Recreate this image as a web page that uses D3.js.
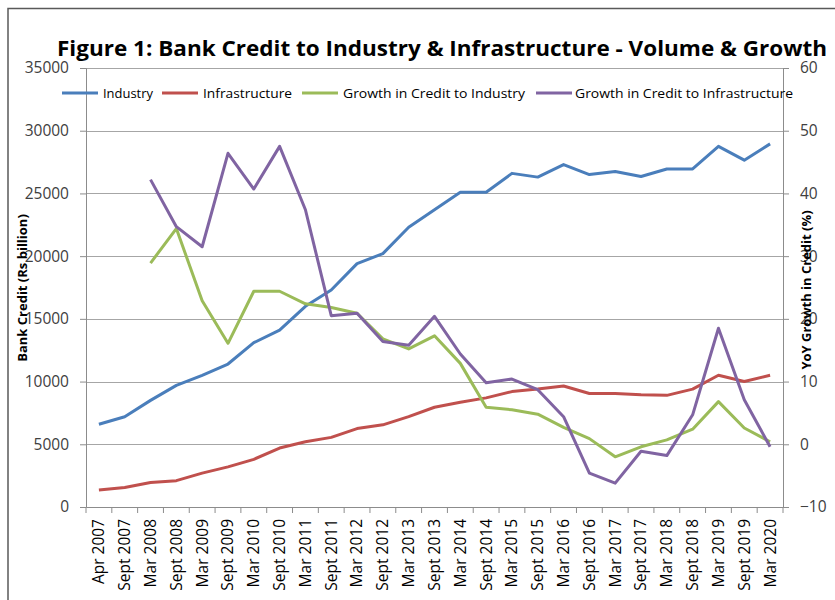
<!DOCTYPE html>
<html><head><meta charset="utf-8">
<script src="https://cdn.jsdelivr.net/npm/d3@7"></script>
<style>
body{margin:0;background:#fff;}
text{font-family:"Open Sans","Noto Sans",sans-serif;}
</style></head>
<body><svg id="c" width="835" height="600"></svg>
<script>
const categories = ["Apr 2007","Sept 2007","Mar 2008","Sept 2008","Mar 2009","Sept 2009","Mar 2010","Sept 2010","Mar 2011","Sept 2011","Mar 2012","Sept 2012","Mar 2013","Sept 2013","Mar 2014","Sept 2014","Mar 2015","Sept 2015","Mar 2016","Sept 2016","Mar 2017","Sept 2017","Mar 2018","Sept 2018","Mar 2019","Sept 2019","Mar 2020"];
const industry = [6600,7200,8500,9700,10500,11400,13100,14100,16000,17300,19400,20200,22300,23700,25100,25100,26600,26300,27300,26500,26750,26350,26950,26950,28750,27650,28950];
const infrastructure = [1350,1550,1950,2100,2700,3200,3800,4700,5200,5550,6250,6550,7200,7950,8350,8700,9200,9400,9650,9050,9050,8950,8900,9400,10500,10000,10500];
const growthIndustry = [null,null,28.9,34.4,22.9,16.1,24.4,24.4,22.4,21.8,20.9,16.8,15.2,17.3,12.9,5.9,5.5,4.8,2.7,0.9,-2.0,-0.4,0.7,2.4,6.8,2.6,0.4];
const growthInfra = [null,null,42.2,34.7,31.5,46.4,40.7,47.5,37.4,20.5,20.9,16.4,15.8,20.4,14.4,9.8,10.4,8.7,4.4,-4.6,-6.2,-1.1,-1.8,4.7,18.5,7.1,-0.4];
const leftTicks = [0,5000,10000,15000,20000,25000,30000,35000];
const rightTicks = [-10,0,10,20,30,40,50,60];
const seriesNames = ["Industry","Infrastructure","Growth in Credit to Industry","Growth in Credit to Infrastructure"];
const colors = ["#4A7EBB","#C0504D","#9BBB59","#8064A2"];

const svg = d3.select("#c");
const L=86, R=783, T=68, B=507;
const x = d3.scaleBand().domain(categories).range([L,R]).padding(0);
const yL = d3.scaleLinear().domain([0,35000]).range([B,T]);
const yR = d3.scaleLinear().domain([-10,60]).range([B,T]);

// frame
svg.append("path").attr("d","M8,600 L8,8.5 L835,8.5").attr("fill","none").attr("stroke","#595959").attr("stroke-width",1.5);

// gridlines
svg.append("g").selectAll("line").data(leftTicks.slice(1)).join("line")
  .attr("x1",L).attr("x2",R).attr("y1",d=>Math.round(yL(d))+0.5).attr("y2",d=>Math.round(yL(d))+0.5)
  .attr("stroke","#a6a6a6").attr("stroke-width",1);

// left axis
const gl = svg.append("g").attr("transform",`translate(${L},0)`)
  .call(d3.axisLeft(yL).tickValues(leftTicks).tickSize(6).tickPadding(11).tickFormat(d3.format("d")));
// right axis
const gr = svg.append("g").attr("transform",`translate(${R},0)`)
  .call(d3.axisRight(yR).tickValues(rightTicks).tickSize(6).tickPadding(11).tickFormat(d3.format("d")));
// bottom axis
const gb = svg.append("g").attr("transform",`translate(0,${B})`)
  .call(d3.axisBottom(x).tickSize(0).tickPadding(0));
[gl,gr,gb].forEach(g=>{g.select(".domain").attr("stroke","#8c8c8c"); g.selectAll(".tick line").attr("stroke","#8c8c8c");});
gl.selectAll(".tick text").attr("font-size",15.5).attr("fill","#404040");
gr.selectAll(".tick text").attr("font-size",15.5).attr("fill","#404040");
gb.selectAll(".tick text").attr("font-size",15.5).attr("fill","#000")
  .attr("transform","rotate(-90)").attr("text-anchor","end").attr("dy","0.35em").attr("x",-12).attr("y",0);
// category boundary ticks
const bounds = categories.map(c=>x(c)).concat([R]);
svg.append("g").selectAll("line").data(bounds).join("line")
  .attr("x1",d=>d).attr("x2",d=>d).attr("y1",B).attr("y2",B+6).attr("stroke","#8c8c8c");

// lines
const lineL = d3.line().defined(d=>d.v!=null).x(d=>x(d.c)+x.bandwidth()/2).y(d=>yL(d.v));
const lineR = d3.line().defined(d=>d.v!=null).x(d=>x(d.c)+x.bandwidth()/2).y(d=>yR(d.v));
const mk = arr=>arr.map((v,i)=>({c:categories[i],v}));
const series = [[industry,lineL],[infrastructure,lineL],[growthIndustry,lineR],[growthInfra,lineR]];
series.forEach(([arr,ln],i)=>{
  svg.append("path").datum(mk(arr)).attr("d",ln).attr("fill","none")
    .attr("stroke",colors[i]).attr("stroke-width",3).attr("stroke-linejoin","round");
});

// title
svg.append("text").attr("x",57).attr("y",56).attr("font-size",22).attr("font-weight","bold")
  .attr("textLength",770).attr("lengthAdjust","spacingAndGlyphs").attr("fill","#000")
  .text("Figure 1: Bank Credit to Industry & Infrastructure - Volume & Growth");

// legend
const legX = [62,162,302,536], legTX=[103,203,343,575], legTW=[50,89,182,218];
seriesNames.forEach((n,i)=>{
  svg.append("line").attr("x1",legX[i]).attr("x2",legX[i]+36).attr("y1",93).attr("y2",93)
    .attr("stroke",colors[i]).attr("stroke-width",3);
  svg.append("text").attr("x",legTX[i]).attr("y",93).attr("dy","0.35em").attr("font-size",13.5)
    .attr("textLength",legTW[i]).attr("lengthAdjust","spacingAndGlyphs").attr("fill","#000").text(n);
});

// axis titles
svg.append("text").attr("transform","translate(27,288) rotate(-90)").attr("text-anchor","middle")
  .attr("font-size",13).attr("font-weight","bold").attr("fill","#000").text("Bank Credit  (Rs billion)");
svg.append("text").attr("transform","translate(811,290) rotate(-90)").attr("text-anchor","middle")
  .attr("font-size",13).attr("font-weight","bold").attr("fill","#000").text("YoY Growth in Credit (%)");
</script></body></html>
